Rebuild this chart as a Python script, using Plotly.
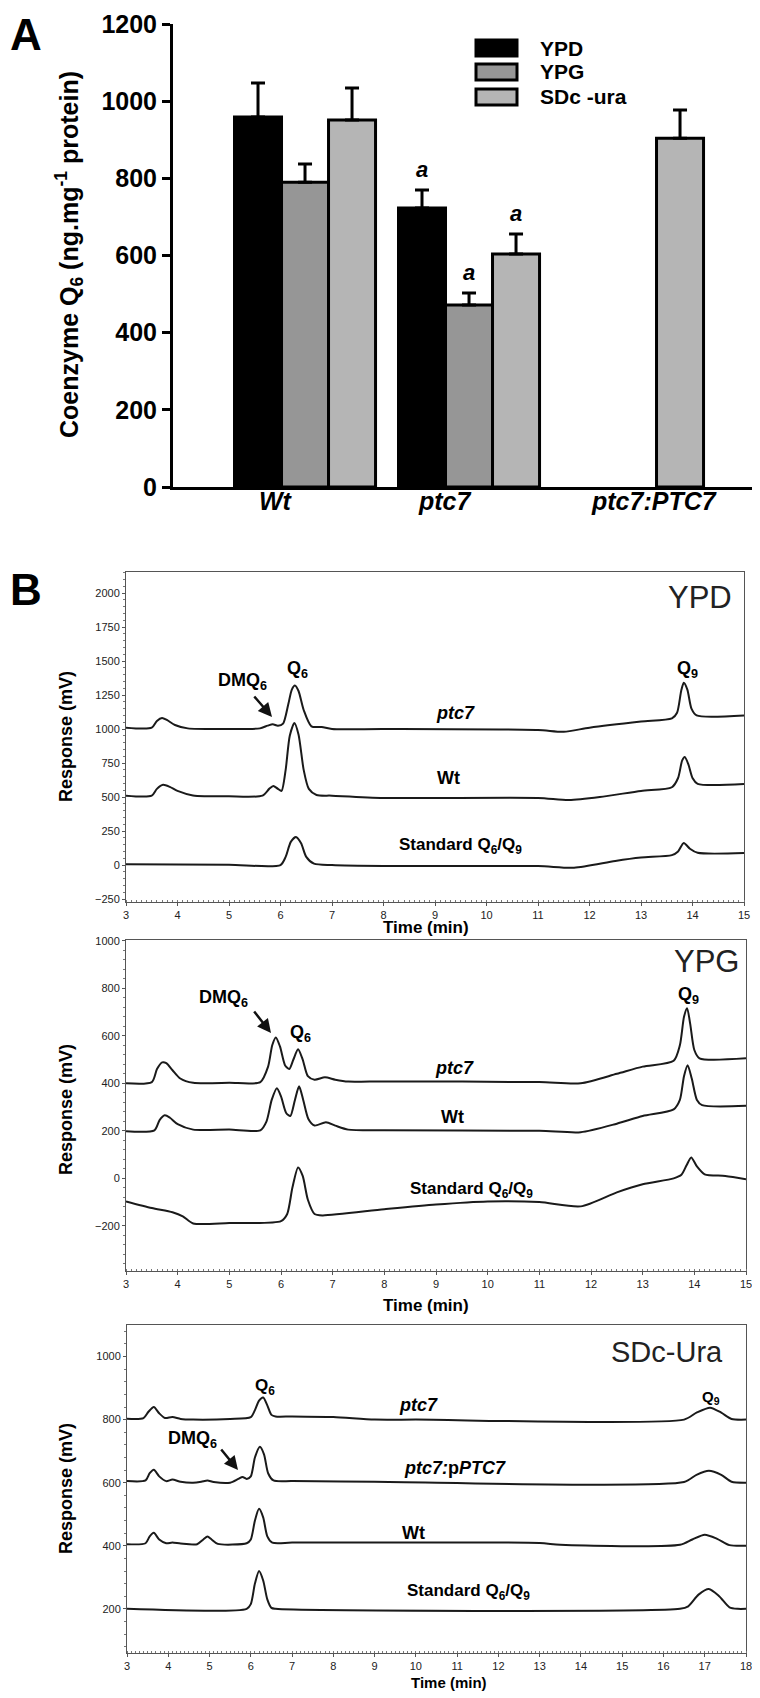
import plotly.graph_objects as go

# The page body has a default 8px margin, so the figure is drawn 8px in from the
# top-left corner; page coordinates below are converted with that offset.
OFF = 8
W, H = 760 - OFF, 1698 - OFF
FONT = "Liberation Sans, Arial, sans-serif"

# ---------------- Panel A data ----------------
strains = ["Wt", "ptc7", "ptc7:PTC7"]
strain_labels = ["<b><i>Wt</i></b>", "<b><i>ptc7</i></b>", "<b><i>ptc7:PTC7</i></b>"]
media = ["YPD", "YPG", "SDc -ura"]
ypd_vals = [959, 723, None]
ypd_err = [88, 47, 0]
ypg_vals = [790, 472, None]
ypg_err = [47, 31, 0]
sdc_vals = [951, 604, 904]
sdc_err = [83, 52, 73]
bar_colors = ["#000000", "#969696", "#b5b5b5"]

# ---------------- Panel B data (chromatograms) ----------------
# YPD
ypd_ptc7_t = [3.0, 3.5, 3.6, 3.7, 3.8, 3.95, 4.2, 5.0, 5.6, 5.75, 5.85, 5.95, 6.05, 6.15, 6.22, 6.28, 6.35, 6.45, 6.6, 6.8, 7.0, 8.0, 11.0, 11.5, 12.0, 13.0, 13.6, 13.7, 13.78, 13.83, 13.9, 13.98, 14.08, 15.0]
ypd_ptc7_y = [1010, 1010, 1060, 1082, 1065, 1030, 1005, 1000, 1005, 1025, 1035, 1025, 1040, 1180, 1290, 1320, 1280, 1140, 1020, 1015, 1000, 1000, 993, 980, 1010, 1055, 1078, 1120, 1280, 1340, 1290, 1150, 1100, 1100]
ypd_wt_t = [3.0, 3.5, 3.6, 3.72, 3.85, 4.0, 4.3, 5.0, 5.65, 5.78, 5.86, 5.95, 6.02, 6.1, 6.18, 6.27, 6.35, 6.45, 6.55, 6.7, 7.0, 8.0, 11.0, 11.6, 12.2, 13.0, 13.6, 13.72, 13.8, 13.85, 13.92, 14.0, 14.1, 15.0]
ypd_wt_y = [510, 510, 560, 590, 575, 545, 512, 505, 510, 560, 582, 560, 545, 700, 950, 1045, 960, 700, 560, 515, 510, 493, 493, 478, 500, 545, 572, 640, 770, 794, 740, 640, 597, 595]
ypd_std_t = [3.0, 5.0, 6.0, 6.1, 6.2, 6.3, 6.4, 6.5, 6.65, 7.0, 8.0, 11.0, 11.7, 12.5, 13.0, 13.6, 13.72, 13.83, 13.95, 14.1, 15.0]
ypd_std_y = [5, 2, 0, 60, 170, 206, 160, 60, 10, 0, -7, -8, -20, 30, 55, 73, 100, 162, 120, 90, 88]

# YPG
ypg_ptc7_t = [3.0, 3.5, 3.6, 3.7, 3.78, 3.9, 4.05, 4.3, 5.0, 5.6, 5.75, 5.83, 5.9, 5.98, 6.08, 6.16, 6.24, 6.33, 6.42, 6.52, 6.65, 6.85, 7.05, 7.3, 8.0, 11.0, 11.8, 12.5, 13.0, 13.6, 13.72, 13.8, 13.86, 13.92, 14.0, 14.1, 15.0]
ypg_ptc7_y = [400, 405, 460, 488, 485, 455, 420, 402, 402, 405, 470, 560, 593, 555, 475, 460, 500, 543, 500, 430, 415, 425, 415, 407, 408, 405, 400, 440, 470, 495, 560, 680, 716, 650, 540, 505, 505]
ypg_wt_t = [3.0, 3.55, 3.65, 3.75, 3.85, 4.0, 4.3, 5.0, 5.6, 5.72, 5.82, 5.92, 6.0, 6.1, 6.18, 6.27, 6.35, 6.43, 6.53, 6.65, 6.87, 7.05, 7.3, 8.0, 11.0, 11.8, 12.5, 13.0, 13.6, 13.72, 13.8, 13.87, 13.95, 14.05, 14.15, 15.0]
ypg_wt_y = [198, 202, 245, 265, 255, 228, 205, 205, 202, 240, 330, 379, 345, 275, 262, 330, 387, 330, 250, 222, 236, 222, 205, 202, 200, 194, 230, 262, 290, 330, 430, 476, 420, 330, 308, 305]
ypg_std_t = [3.0, 3.5, 3.9, 4.1, 4.3, 5.0, 6.0, 6.12, 6.22, 6.33, 6.42, 6.52, 6.65, 6.8, 8.0, 9.0, 10.0, 11.0, 11.8, 12.5, 13.0, 13.6, 13.75, 13.85, 13.94, 14.05, 14.2, 14.6, 15.0]
ypg_std_y = [-97, -125, -143, -160, -190, -188, -180, -150, -40, 46, 10, -90, -150, -156, -130, -110, -97, -100, -118, -59, -25, 0, 15, 55, 88, 50, 17, 10, -4]

# SDc-Ura
sdc_ptc7_t = [3.0, 3.4, 3.52, 3.65, 3.78, 3.92, 4.1, 4.3, 4.6, 5.5, 6.0, 6.1, 6.2, 6.3, 6.4, 6.5, 6.6, 7.0, 8.0, 9.0, 10.0, 16.5, 16.8, 17.13, 17.4, 17.65, 18.0]
sdc_ptc7_y = [803, 805, 825, 840, 820, 805, 808, 802, 800, 802, 808, 830, 860, 870, 845, 815, 810, 810, 808, 800, 800, 800, 822, 838, 822, 802, 800]
sdc_comp_t = [3.0, 3.45, 3.55, 3.65, 3.78, 3.95, 4.1, 4.3, 4.6, 4.8, 4.95, 5.1, 5.5, 5.7, 5.8, 5.9, 6.0, 6.1, 6.22, 6.32, 6.42, 6.55, 7.0, 9.0, 16.5, 16.8, 17.1, 17.4, 17.65, 18.0]
sdc_comp_y = [605, 607, 630, 641, 620, 605, 610, 603, 600, 603, 607, 602, 600, 612, 618, 612, 620, 680, 714, 690, 630, 607, 605, 603, 602, 625, 638, 625, 603, 600]
sdc_wt_t = [3.0, 3.45, 3.55, 3.65, 3.78, 3.95, 4.1, 4.3, 4.7, 4.85, 4.95, 5.05, 5.2, 5.9, 6.0, 6.1, 6.2, 6.3, 6.4, 6.52, 7.0, 9.0, 13.0, 13.5, 16.4, 16.7, 17.0, 17.3, 17.6, 18.0]
sdc_wt_y = [405, 408, 430, 441, 420, 408, 410, 407, 405, 420, 429, 420, 406, 408, 420, 480, 517, 490, 430, 410, 410, 410, 409, 403, 403, 420, 435, 422, 402, 400]
sdc_std_t = [3.0, 5.9, 6.0, 6.1, 6.2, 6.3, 6.4, 6.5, 6.6, 16.4, 16.6, 16.85, 17.1, 17.35, 17.6, 17.8, 18.0]
sdc_std_y = [200, 200, 215, 280, 320, 290, 230, 203, 200, 200, 208, 245, 263, 240, 205, 200, 200]


def px(x):
    return (x - OFF) / W


def py(y):
    return 1 - (y - OFF) / H


fig = go.Figure()

# ---------------- Panel A ----------------
for vals, errs, name, col in [(ypd_vals, ypd_err, media[0], bar_colors[0]),
                              (ypg_vals, ypg_err, media[1], bar_colors[1]),
                              (sdc_vals, sdc_err, media[2], bar_colors[2])]:
    fig.add_trace(go.Bar(
        x=strains, y=vals, name=name, xaxis="x", yaxis="y",
        marker=dict(color=col, line=dict(color="black", width=3)),
        error_y=dict(type="data", symmetric=False, array=errs,
                     arrayminus=[0] * len(errs), color="black",
                     thickness=3, width=7),
        showlegend=False,
    ))

# ---------------- Panel B traces ----------------
line_style = dict(color="#1a1a1a", width=2, shape="spline", smoothing=0.7)
for t, y, ax in [(ypd_ptc7_t, ypd_ptc7_y, 2), (ypd_wt_t, ypd_wt_y, 2), (ypd_std_t, ypd_std_y, 2),
                 (ypg_ptc7_t, ypg_ptc7_y, 3), (ypg_wt_t, ypg_wt_y, 3), (ypg_std_t, ypg_std_y, 3),
                 (sdc_ptc7_t, sdc_ptc7_y, 4), (sdc_comp_t, sdc_comp_y, 4), (sdc_wt_t, sdc_wt_y, 4),
                 (sdc_std_t, sdc_std_y, 4)]:
    fig.add_trace(go.Scatter(x=t, y=y, mode="lines", line=line_style,
                             xaxis=f"x{ax}", yaxis=f"y{ax}", showlegend=False,
                             hoverinfo="skip"))

chrom_axis = dict(showline=True, linecolor="#555", linewidth=1, mirror=True,
                  ticks="outside", ticklen=3, tickcolor="#555", tickwidth=1,
                  tickfont=dict(family=FONT, size=11, color="#222"),
                  showgrid=False, zeroline=False, automargin=False)

layout = dict(
    width=W, height=H, margin=dict(l=0, r=0, t=0, b=0, pad=0, autoexpand=False),
    paper_bgcolor="white", plot_bgcolor="white",
    font=dict(family=FONT, color="black"),
    barmode="group", bargap=0.14, bargroupgap=0.0,
    showlegend=False,
    xaxis=dict(domain=[px(173), px(757)], anchor="y", range=[-0.805, 2.756],
               showline=True, linecolor="black", linewidth=3, ticks="",
               showticklabels=False, automargin=False,
               showgrid=False, zeroline=False),
    yaxis=dict(domain=[py(487), py(24)], anchor="x", range=[0, 1200],
               showline=True, linecolor="black", linewidth=3,
               ticks="outside", ticklen=8, tickwidth=3, tickcolor="black",
               tickvals=[0, 200, 400, 600, 800, 1000, 1200], automargin=False,
               tickfont=dict(family=FONT, size=25, color="black", weight="bold"),
               showgrid=False, zeroline=False),
    xaxis2=dict(chrom_axis, domain=[px(126), px(744)], anchor="y2", range=[3, 15], dtick=1,
                minor=dict(ticks="inside", ticklen=2, dtick=0.1, tickcolor="#777")),
    yaxis2=dict(chrom_axis, domain=[py(902), py(572)], anchor="x2", range=[-272, 2155],
                tickvals=[-250, 0, 250, 500, 750, 1000, 1250, 1500, 1750, 2000],
                minor=dict(ticks="outside", ticklen=2, dtick=50, tickcolor="#777")),
    xaxis3=dict(chrom_axis, domain=[px(126), px(746)], anchor="y3", range=[3, 15], dtick=1,
                minor=dict(ticks="inside", ticklen=2, dtick=0.1, tickcolor="#777")),
    yaxis3=dict(chrom_axis, domain=[py(1271), py(940)], anchor="x3", range=[-390, 1003],
                tickvals=[-200, 0, 200, 400, 600, 800, 1000],
                minor=dict(ticks="outside", ticklen=2, dtick=40, tickcolor="#777")),
    xaxis4=dict(chrom_axis, domain=[px(127), px(746)], anchor="y4", range=[3, 18], dtick=1,
                minor=dict(ticks="inside", ticklen=2, dtick=0.1, tickcolor="#777")),
    yaxis4=dict(chrom_axis, domain=[py(1653), py(1325)], anchor="x4", range=[60, 1100],
                tickvals=[200, 400, 600, 800, 1000],
                minor=dict(ticks="outside", ticklen=2, dtick=40, tickcolor="#777")),
)
fig.update_layout(**layout)

ann = []
shapes = []


def text(x, y, s, size, bold=True, italic=False, xanchor="center", angle=0,
         color="black", yanchor="middle"):
    t = s
    if italic:
        t = f"<i>{t}</i>"
    if bold:
        t = f"<b>{t}</b>"
    ann.append(dict(x=px(x), y=py(y), xref="paper", yref="paper", text=t,
                    showarrow=False, xanchor=xanchor, yanchor=yanchor,
                    textangle=angle, font=dict(family=FONT, size=size, color=color)))


def arrow(x0, y0, x1, y1):
    ann.append(dict(x=px(x1), y=py(y1), xref="paper", yref="paper", text="",
                    showarrow=True, ax=x0 - x1, ay=y0 - y1, arrowhead=2,
                    arrowsize=1.1, arrowwidth=2.5, arrowcolor="#111"))


# Panel labels
text(8, 8, "A", 44, xanchor="left", yanchor="top")
text(8, 590, "B", 44, xanchor="left")

# Panel A y-title
text(69, 255, "Coenzyme Q<sub>6</sub> (ng.mg<sup>-1</sup> protein)", 25, angle=-90)

# Panel A category labels
for lab, xc in zip(strain_labels, [276, 445, 654]):
    ann.append(dict(x=px(xc), y=py(501), xref="paper", yref="paper", text=lab,
                    showarrow=False, xanchor="center", yanchor="middle",
                    font=dict(family=FONT, size=25, color="black")))

# significance marks "a" above ptc7 bars
bar_w = 0.86 / 3
for k, (vals, errs) in enumerate([(ypd_vals, ypd_err), (ypg_vals, ypg_err), (sdc_vals, sdc_err)]):
    ann.append(dict(x=1 + (k - 1) * bar_w, y=vals[1] + errs[1], xref="x", yref="y",
                    text="<b><i>a</i></b>", showarrow=False, yanchor="bottom", yshift=6,
                    font=dict(family=FONT, size=22, color="black")))

# Legend of panel A
for i, (name, col) in enumerate(zip(media, bar_colors)):
    yc = [48, 72, 97][i]
    shapes.append(dict(type="rect", xref="paper", yref="paper",
                       x0=px(476), x1=px(517), y0=py(yc - 8), y1=py(yc + 8),
                       fillcolor=col, line=dict(color="black", width=3)))
    text(538, yc, name, 21, xanchor="left")

# Panel B: axis titles
for yc in [737, 1110, 1489]:
    text(66, yc, "Response (mV)", 18, angle=-90)
text(426, 927, "Time (min)", 17)
text(426, 1305, "Time (min)", 17)
text(449, 1682, "Time (min)", 15)

# condition headers
text(700, 597, "YPD", 31, bold=False, color="#222")
text(706, 961, "YPG", 31, bold=False, color="#222")
text(667, 1352, "SDc-Ura", 29, bold=False, color="#222")

# YPD annotations
text(242, 682, "DMQ<sub>6</sub>", 18)
arrow(253, 695, 272, 717)
text(297, 670, "Q<sub>6</sub>", 18)
text(687, 669, "Q<sub>9</sub>", 18)
text(455, 713, "ptc7", 18, italic=True)
text(448, 778, "Wt", 18)
text(460, 846, "Standard Q<sub>6</sub>/Q<sub>9</sub>", 17)

# YPG annotations
text(223, 998, "DMQ<sub>6</sub>", 18)
arrow(253, 1010, 271, 1033)
text(300, 1033, "Q<sub>6</sub>", 18)
text(688, 995, "Q<sub>9</sub>", 18)
text(454, 1068, "ptc7", 18, italic=True)
text(452, 1117, "Wt", 18)
text(471, 1190, "Standard Q<sub>6</sub>/Q<sub>9</sub>", 17)

# SDc-Ura annotations
text(265, 1387, "Q<sub>6</sub>", 17)
text(711, 1397, "Q<sub>9</sub>", 15)
text(192, 1439, "DMQ<sub>6</sub>", 18)
arrow(220, 1448, 238, 1470)
text(418, 1405, "ptc7", 18, italic=True)
text(402, 1468, "<i>ptc7:</i>p<i>PTC7</i>", 18, xanchor="left")
text(413, 1533, "Wt", 18)
text(469, 1592, "Standard Q<sub>6</sub>/Q<sub>9</sub>", 17)

fig.update_layout(annotations=ann, shapes=shapes)
fig.write_html("out.html", config={"displayModeBar": False})
